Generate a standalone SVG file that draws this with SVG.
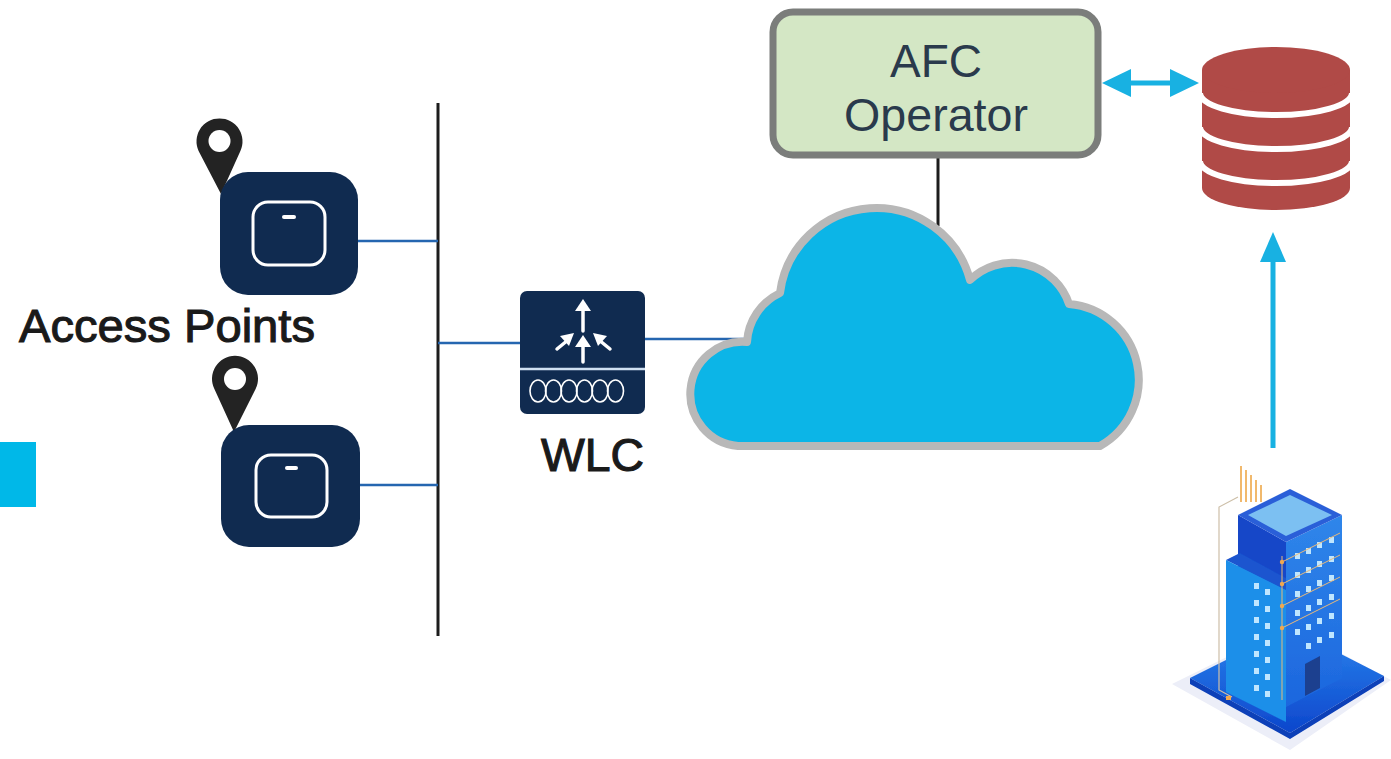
<svg xmlns="http://www.w3.org/2000/svg" width="1391" height="759" viewBox="0 0 1391 759">
  <defs>
    <style>
      .bus { stroke: #1c1c1c; stroke-width: 3; fill: none; }
      .link { stroke: #2566b0; stroke-width: 2.5; fill: none; }
      .ap-body { fill: #102b50; }
      .ap-face { fill: none; stroke: #ffffff; stroke-width: 3; }
      .pin { fill: #232323; }
      .label { font-family: "Liberation Sans", Arial, sans-serif; fill: #1a1a1a; stroke: #1a1a1a; stroke-width: 1.1; }
      .afc-text { font-family: "Liberation Sans", Arial, sans-serif; font-size: 46px; fill: #2a3a4c; text-anchor: middle; }
      .cyan { fill: #18b1e2; }
      .win { fill: #bfe6ff; }
    </style>
    <linearGradient id="baseGrad" x1="0" y1="0" x2="0" y2="1">
      <stop offset="0" stop-color="#2a86ee"/>
      <stop offset="1" stop-color="#0d46cc"/>
    </linearGradient>
    <linearGradient id="faceGrad" x1="0" y1="0" x2="0" y2="1">
      <stop offset="0" stop-color="#2f86ea"/>
      <stop offset="1" stop-color="#1c66de"/>
    </linearGradient>
    <filter id="soft" x="-10%" y="-10%" width="120%" height="120%">
      <feGaussianBlur stdDeviation="0.7"/>
    </filter>
  </defs>

  <rect width="1391" height="759" fill="#ffffff"/>

  <!-- edge tab on the left -->
  <rect x="0" y="442" width="36" height="65" fill="#00b8e8"/>

  <!-- connectors -->
  <g id="connectors">
    <line class="bus" x1="438" y1="103" x2="438" y2="636"/>
    <line class="link" x1="358" y1="241" x2="438" y2="241"/>
    <line class="link" x1="360" y1="485" x2="438" y2="485"/>
    <line class="link" x1="438" y1="343" x2="521" y2="343"/>
    <line class="link" x1="645" y1="339" x2="744" y2="339"/>
    <line class="bus" x1="938" y1="157" x2="938" y2="226" stroke-width="2.5"/>
    <!-- AFC <-> database -->
    <rect class="cyan" x="1126" y="80.5" width="48" height="5"/>
    <polygon class="cyan" points="1102,83 1131,69 1131,97"/>
    <polygon class="cyan" points="1199,83 1170,69 1170,97"/>
    <!-- building -> database -->
    <rect class="cyan" x="1270.5" y="258" width="5" height="190"/>
    <polygon class="cyan" points="1273,232 1260,262 1286,262"/>
  </g>

  <!-- access point 1 -->
  <g id="ap1">
    <path class="pin" d="M221,194 L198.6,151 A23,23 0 1 1 240.4,151 Z"/>
    <circle cx="219.5" cy="141" r="11" fill="#ffffff"/>
    <rect class="ap-body" x="220" y="172" width="138" height="123" rx="28"/>
    <rect class="ap-face" x="253" y="202" width="72" height="63" rx="15"/>
    <rect x="282" y="215" width="14" height="4" rx="2" fill="#ffffff"/>
  </g>

  <!-- access point 2 -->
  <g id="ap2">
    <path class="pin" d="M234,432 L214.4,389 A23,23 0 1 1 255.6,389 Z"/>
    <circle cx="235" cy="379" r="11" fill="#ffffff"/>
    <rect class="ap-body" x="221" y="425" width="139" height="122" rx="28"/>
    <rect class="ap-face" x="256" y="455" width="71" height="62" rx="15"/>
    <rect x="285" y="466" width="13" height="4" rx="2" fill="#ffffff"/>
  </g>

  <g id="ap-label">
    <text class="label" x="19" y="342" font-size="47" textLength="296" lengthAdjust="spacingAndGlyphs">Access Points</text>
  </g>

  <!-- wireless LAN controller -->
  <g id="wlc">
    <rect x="520" y="291" width="125" height="123" rx="7" fill="#102b50"/>
    <line x1="520" y1="369" x2="645" y2="369" stroke="#cfe0f2" stroke-width="2.5"/>
    <g stroke="#ffffff" stroke-width="3.5" fill="none" stroke-linecap="round">
      <line x1="583" y1="331" x2="583" y2="308"/>
      <line x1="583" y1="362" x2="583" y2="345"/>
      <line x1="557" y1="349" x2="568" y2="340"/>
      <line x1="610" y1="349" x2="599" y2="340"/>
    </g>
    <g fill="#ffffff">
      <polygon points="583,299 575,311 591,311"/>
      <polygon points="583,335 575,347 591,347"/>
      <polygon points="574,333 560,336 569,346"/>
      <polygon points="593,333 607,336 598,346"/>
    </g>
    <g stroke="#ffffff" stroke-width="1.6" fill="none">
      <ellipse cx="538" cy="391" rx="8" ry="11"/>
      <ellipse cx="553.5" cy="391" rx="8" ry="11"/>
      <ellipse cx="569" cy="391" rx="8" ry="11"/>
      <ellipse cx="584.5" cy="391" rx="8" ry="11"/>
      <ellipse cx="600" cy="391" rx="8" ry="11"/>
      <ellipse cx="615.5" cy="391" rx="8" ry="11"/>
    </g>
    <text class="label" x="541" y="471" font-size="46" textLength="103" lengthAdjust="spacingAndGlyphs">WLC</text>
  </g>

  <!-- cloud -->
  <g id="cloud">
    <path d="M738,446 A52,52 0 1 1 747,342 A58,58 0 0 1 780,293 A97,97 0 0 1 970,280 A60,60 0 0 1 1069,304 A76,76 0 0 1 1100,446 Z"
          fill="#0cb5e7" stroke="#b8b8b8" stroke-width="8" stroke-linejoin="round"/>
  </g>

  <!-- AFC operator -->
  <g id="afc">
    <rect x="773" y="12" width="325" height="143" rx="20" fill="#d4e7c5" stroke="#7b7d7b" stroke-width="7"/>
    <text class="afc-text" x="936" y="77">AFC</text>
    <text class="afc-text" x="936" y="131" textLength="184" lengthAdjust="spacingAndGlyphs">Operator</text>
  </g>

  <!-- database -->
  <g id="database">
    <path d="M1202,70 L1202,188 A74,22 0 0 0 1350,188 L1350,70 Z" fill="#b04a47"/>
    <ellipse cx="1276" cy="70" rx="74" ry="23" fill="#b04a47"/>
    <g stroke="#ffffff" stroke-width="6" fill="none">
      <path d="M1200,93 A76,22 0 0 0 1352,93"/>
      <path d="M1200,127 A76,22 0 0 0 1352,127"/>
      <path d="M1200,161 A76,22 0 0 0 1352,161"/>
    </g>
  </g>

  <!-- building -->
  <g id="building" filter="url(#soft)">
    <!-- ground shadow -->
    <polygon points="1172,684 1290,626 1391,680 1290,750" fill="#eceef8"/>
    <!-- platform -->
    <polygon points="1190,678 1290,628 1384,676 1290,733" fill="url(#baseGrad)"/>
    <polygon points="1190,678 1290,733 1384,676 1384,681 1290,739 1190,684" fill="#0b3fb8"/>
    <!-- antenna bars and cable -->
    <g stroke="#f0b25e" stroke-width="1.8">
      <line x1="1241" y1="466" x2="1241" y2="502"/>
      <line x1="1246" y1="470" x2="1246" y2="502"/>
      <line x1="1251" y1="475" x2="1251" y2="502"/>
      <line x1="1256" y1="480" x2="1256" y2="502"/>
      <line x1="1261" y1="485" x2="1261" y2="502"/>
    </g>
    <polyline points="1238,497 1219,507 1219,690 1232,697" fill="none" stroke="#cdbfa8" stroke-width="1.2"/>
    <!-- tall tower -->
    <polygon points="1238,515 1286,542 1286,610 1238,585" fill="#1846c8"/>
    <polygon points="1286,542 1342,515 1342,678 1286,707" fill="url(#faceGrad)"/>
    <polygon points="1238,515 1290,489 1342,515 1286,542" fill="#2a5fd8"/>
    <polygon points="1248,515 1290,495 1332,515 1286,536" fill="#7cc0f2"/>
    <!-- lower wing -->
    <polygon points="1226,560 1240,553 1286,578 1286,590" fill="#1a54cf"/>
    <polygon points="1226,560 1286,590 1286,722 1226,692" fill="#1b8fe9"/>
    <!-- wing windows -->
    <g class="win">
      <rect x="1254" y="583" width="5" height="6"/><rect x="1265" y="589" width="5" height="6"/>
      <rect x="1254" y="600" width="5" height="6"/><rect x="1265" y="606" width="5" height="6"/>
      <rect x="1254" y="617" width="5" height="6"/><rect x="1265" y="623" width="5" height="6"/>
      <rect x="1254" y="634" width="5" height="6"/><rect x="1265" y="640" width="5" height="6"/>
      <rect x="1254" y="651" width="5" height="6"/><rect x="1265" y="657" width="5" height="6"/>
      <rect x="1254" y="668" width="5" height="6"/><rect x="1265" y="674" width="5" height="6"/>
      <rect x="1254" y="685" width="5" height="6"/><rect x="1265" y="691" width="5" height="6"/>
    </g>
    <!-- tower windows -->
    <g class="win">
      <rect x="1295" y="553" width="5" height="6"/><rect x="1306" y="548" width="5" height="6"/><rect x="1317" y="542" width="5" height="6"/><rect x="1329" y="537" width="5" height="6"/>
      <rect x="1295" y="572" width="5" height="6"/><rect x="1306" y="567" width="5" height="6"/><rect x="1317" y="561" width="5" height="6"/><rect x="1329" y="556" width="5" height="6"/>
      <rect x="1295" y="591" width="5" height="6"/><rect x="1306" y="586" width="5" height="6"/><rect x="1317" y="580" width="5" height="6"/><rect x="1329" y="575" width="5" height="6"/>
      <rect x="1295" y="610" width="5" height="6"/><rect x="1306" y="605" width="5" height="6"/><rect x="1317" y="599" width="5" height="6"/><rect x="1329" y="594" width="5" height="6"/>
      <rect x="1295" y="629" width="5" height="6"/><rect x="1306" y="624" width="5" height="6"/><rect x="1317" y="618" width="5" height="6"/><rect x="1329" y="613" width="5" height="6"/>
      <rect x="1306" y="643" width="5" height="6"/><rect x="1317" y="637" width="5" height="6"/><rect x="1329" y="632" width="5" height="6"/>
    </g>
    <!-- door -->
    <polygon points="1305,664 1320,656 1320,688 1305,696" fill="#1b3f8f"/>
    <!-- wiring -->
    <g stroke="#e8b97a" stroke-width="1" fill="none">
      <line x1="1282" y1="562" x2="1340" y2="533"/>
      <line x1="1282" y1="584" x2="1340" y2="555"/>
      <line x1="1282" y1="606" x2="1340" y2="577"/>
      <line x1="1282" y1="628" x2="1340" y2="599"/>
      <line x1="1282" y1="556" x2="1282" y2="700"/>
    </g>
    <g fill="#f0a850">
      <circle cx="1282" cy="562" r="2.2"/>
      <circle cx="1282" cy="584" r="2.2"/>
      <circle cx="1282" cy="606" r="2.2"/>
      <circle cx="1282" cy="628" r="2.2"/>
      <rect x="1226" y="696" width="5" height="4"/>
    </g>
  </g>
</svg>
